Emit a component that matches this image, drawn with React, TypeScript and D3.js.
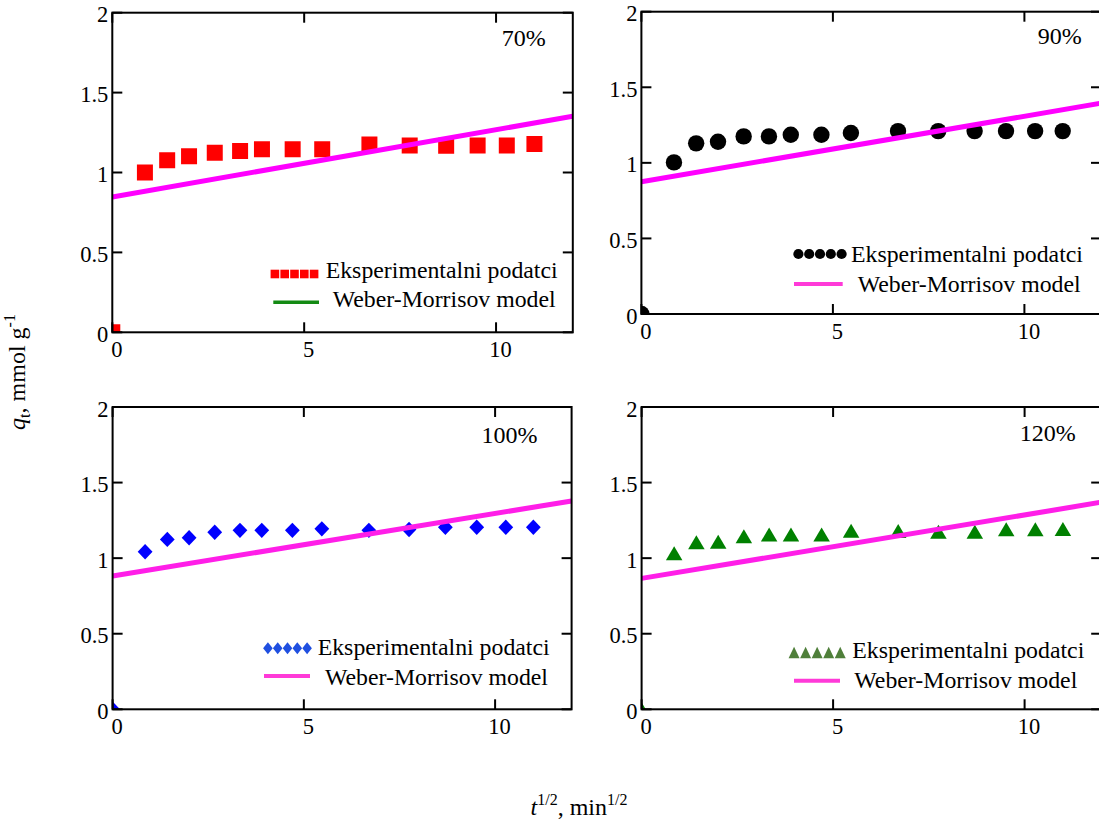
import React from 'react';
import * as d3 from 'd3';

// ---- data ----
const sqrtT = [0, 0.85, 1.43, 2.0, 2.67, 3.33, 3.9, 4.7, 5.47, 6.7, 7.75, 8.7, 9.52, 10.28, 11.0];
const q70 = [0, 1.0, 1.077, 1.102, 1.123, 1.135, 1.146, 1.146, 1.146, 1.175, 1.169, 1.167, 1.169, 1.169, 1.179];
const q90 = [0, 1.003, 1.129, 1.14, 1.175, 1.175, 1.186, 1.186, 1.197, 1.21, 1.21, 1.21, 1.21, 1.21, 1.21];
const q100 = [0, 1.042, 1.124, 1.135, 1.171, 1.184, 1.184, 1.184, 1.194, 1.184, 1.19, 1.204, 1.204, 1.204, 1.204];
const q120 = [0, 1.032, 1.106, 1.109, 1.145, 1.156, 1.156, 1.156, 1.182, 1.18, 1.175, 1.175, 1.191, 1.191, 1.193];

const modelX = [0, 12];
const model70 = [0.847, 1.352];
const model90 = [0.875, 1.395];
const model100 = [0.882, 1.378];
const model120 = [0.866, 1.37];

const panelLabels = ['70%', '90%', '100%', '120%'];
const xTicks = [0, 5, 10];
const xTickLabels = ['0', '5', '10'];
const yTicks = [0, 0.5, 1, 1.5, 2];
const yTickLabels = ['0', '0.5', '1', '1.5', '2'];
const legendLabels = ['Eksperimentalni podatci', 'Weber-Morrisov model'];

const FONT = "'Liberation Serif','Times New Roman',serif";

// ---- custom symbol types ----
const squareType = (s: number) => ({
  draw(ctx: any) {
    ctx.moveTo(-s / 2, -s / 2);
    ctx.lineTo(s / 2, -s / 2);
    ctx.lineTo(s / 2, s / 2);
    ctx.lineTo(-s / 2, s / 2);
    ctx.closePath();
  },
});
const circleType = (r: number) => ({
  draw(ctx: any) {
    ctx.moveTo(r, 0);
    ctx.arc(0, 0, r, 0, 2 * Math.PI);
  },
});
const diamondType = (a: number, b: number) => ({
  draw(ctx: any) {
    ctx.moveTo(0, -b);
    ctx.lineTo(a, 0);
    ctx.lineTo(0, b);
    ctx.lineTo(-a, 0);
    ctx.closePath();
  },
});
const triangleType = (w: number, h: number) => ({
  draw(ctx: any) {
    ctx.moveTo(0, -h / 2);
    ctx.lineTo(w / 2, h / 2);
    ctx.lineTo(-w / 2, h / 2);
    ctx.closePath();
  },
});

const symPath = (t: any) => d3.symbol().type(t)() as string;

// ---- layout ----
const panels = [
  {
    left: 112.3, top: 12.7, width: 460.5, height: 319.6,
    titleGap: 27, titleDy: 33.3,
    symStart: 157.7, symEnd: 206.7, lineStart: 161, lineEnd: 206.7,
    text1: 213.4, text2: 220.4, row1: -58.3, row2: -30, base1: -54.3, base2: -25,
    color: '#ff0000', legendColor: '#ff0000', mainSym: squareType(16), legSym: squareType(8.6),
    lineColor: '#ff00ff', legLineColor: '#138a13', legLineW: 3.5,
  },
  {
    left: 641.4, top: 11.7, width: 459.6, height: 302.3,
    titleGap: 19.3, titleDy: 32.6,
    symStart: 151.6, symEnd: 205.6, lineStart: 152.6, lineEnd: 201.3,
    text1: 209.6, text2: 216.3, row1: -60, row2: -30, base1: -52.3, base2: -22.3,
    color: '#000000', legendColor: '#000000', mainSym: circleType(8.2), legSym: circleType(5.1),
    lineColor: '#ff00ff', legLineColor: '#ff3ad8', legLineW: 4,
  },
  {
    left: 112.6, top: 407, width: 459, height: 302.3,
    titleGap: 34, titleDy: 35.7,
    symStart: 150.4, symEnd: 199.4, lineStart: 151.4, lineEnd: 197.4,
    text1: 205.1, text2: 212.4, row1: -61, row2: -33.3, base1: -54.3, base2: -24.3,
    color: '#0000ff', legendColor: '#1f4fe0', mainSym: diamondType(7.4, 7.7), legSym: diamondType(4.8, 6),
    lineColor: '#ff1ee8', legLineColor: '#ff3ad8', legLineW: 4,
  },
  {
    left: 641.6, top: 407, width: 459.6, height: 302.3,
    titleGap: 25.5, titleDy: 33.7,
    symStart: 146.7, symEnd: 204.4, lineStart: 152.4, lineEnd: 198.4,
    text1: 210.7, text2: 212.7, row1: -56.8, row2: -28.6, base1: -51, base2: -21.6,
    color: '#008000', legendColor: '#4f7f3a', mainSym: triangleType(16.5, 14), legSym: triangleType(11, 11.5),
    lineColor: '#ff1ee8', legLineColor: '#ff3ad8', legLineW: 4,
  },
];

const seriesList = [q70, q90, q100, q120];
const modelList = [model70, model90, model100, model120];

function Panel({ idx }: { idx: number }) {
  const p = panels[idx];
  const x = d3.scaleLinear().domain([0, 12]).range([p.left, p.left + p.width]);
  const y = d3.scaleLinear().domain([0, 2]).range([p.top + p.height, p.top]);
  const qs = seriesList[idx];
  const model = modelList[idx];
  const line = d3.line<number>().x((_, i) => x(modelX[i])).y((d) => y(d));
  const clipId = `clip-${idx}`;
  const right = p.left + p.width;
  const bottom = p.top + p.height;
  const mainD = symPath(p.mainSym);
  const legD = symPath(p.legSym);
  const step = (p.symEnd - p.symStart) / 5;
  const tickLen = 10;
  return (
    <g>
      <defs>
        <clipPath id={clipId}>
          <rect x={p.left} y={p.top} width={p.width} height={p.height} />
        </clipPath>
      </defs>
      <g clipPath={`url(#${clipId})`}>
        {qs.map((q, i) => (
          <path key={i} d={mainD} transform={`translate(${x(sqrtT[i])},${y(q)})`} fill={p.color} />
        ))}
        <path d={line(model) as string} fill="none" stroke={p.lineColor} strokeWidth={5} />
      </g>
      {/* frame */}
      <rect x={p.left} y={p.top} width={p.width} height={p.height} fill="none" stroke="#000" strokeWidth={2} />
      {/* ticks */}
      {xTicks.map((t) => (
        <g key={`xt${t}`}>
          <line x1={x(t)} x2={x(t)} y1={bottom} y2={bottom - tickLen} stroke="#000" strokeWidth={2} />
          <line x1={x(t)} x2={x(t)} y1={p.top} y2={p.top + tickLen} stroke="#000" strokeWidth={2} />
        </g>
      ))}
      {yTicks.map((t) => (
        <g key={`yt${t}`}>
          <line x1={p.left} x2={p.left + tickLen} y1={y(t)} y2={y(t)} stroke="#000" strokeWidth={2} />
          <line x1={right} x2={right - tickLen} y1={y(t)} y2={y(t)} stroke="#000" strokeWidth={2} />
        </g>
      ))}
      {xTicks.map((t, i) => (
        <text key={`xl${t}`} x={x(t) + 4.5} y={bottom + 25} textAnchor="middle" fontSize={22.5} fill="#000">
          {xTickLabels[i]}
        </text>
      ))}
      {yTicks.map((t, i) => (
        <text key={`yl${t}`} x={p.left - 4} y={y(t) + 9.5} textAnchor="end" fontSize={22.5} fill="#000">
          {yTickLabels[i]}
        </text>
      ))}
      {/* panel label */}
      <text x={right - p.titleGap} y={p.top + p.titleDy} textAnchor="end" fontSize={24} fill="#000">
        {panelLabels[idx]}
      </text>
      {/* legend */}
      {[0, 1, 2, 3, 4].map((k) => (
        <path
          key={`lg${k}`}
          d={legD}
          transform={`translate(${p.left + p.symStart + step * (k + 0.5)},${bottom + p.row1})`}
          fill={p.legendColor}
        />
      ))}
      <text x={p.left + p.text1} y={bottom + p.base1} fontSize={23.8} fill="#000">
        {legendLabels[0]}
      </text>
      <line
        x1={p.left + p.lineStart}
        x2={p.left + p.lineEnd}
        y1={bottom + p.row2}
        y2={bottom + p.row2}
        stroke={p.legLineColor}
        strokeWidth={p.legLineW}
      />
      <text x={p.left + p.text2} y={bottom + p.base2} fontSize={23.8} fill="#000">
        {legendLabels[1]}
      </text>
    </g>
  );
}

export default function App() {
  return (
    <svg
      width={1099}
      height={820}
      style={{ position: 'absolute', left: 0, top: 0, display: 'block' }}
      fontFamily={FONT}
    >
      <rect x={0} y={0} width={1099} height={820} fill="#fff" />
      {panels.map((_, i) => (
        <Panel key={i} idx={i} />
      ))}
      <text transform="translate(25,372) rotate(-90)" textAnchor="middle" fontSize={24} fill="#000">
        <tspan fontStyle="italic">q</tspan>
        <tspan fontSize={16} dy={5}>t</tspan>
        <tspan dy={-5}>, mmol g</tspan>
        <tspan fontSize={16} dy={-10}>-1</tspan>
      </text>
      <text x={579} y={815} textAnchor="middle" fontSize={24} fill="#000">
        <tspan fontStyle="italic">t</tspan>
        <tspan fontSize={16} dy={-10}>1/2</tspan>
        <tspan dy={10}>, min</tspan>
        <tspan fontSize={16} dy={-10}>1/2</tspan>
      </text>
    </svg>
  );
}
